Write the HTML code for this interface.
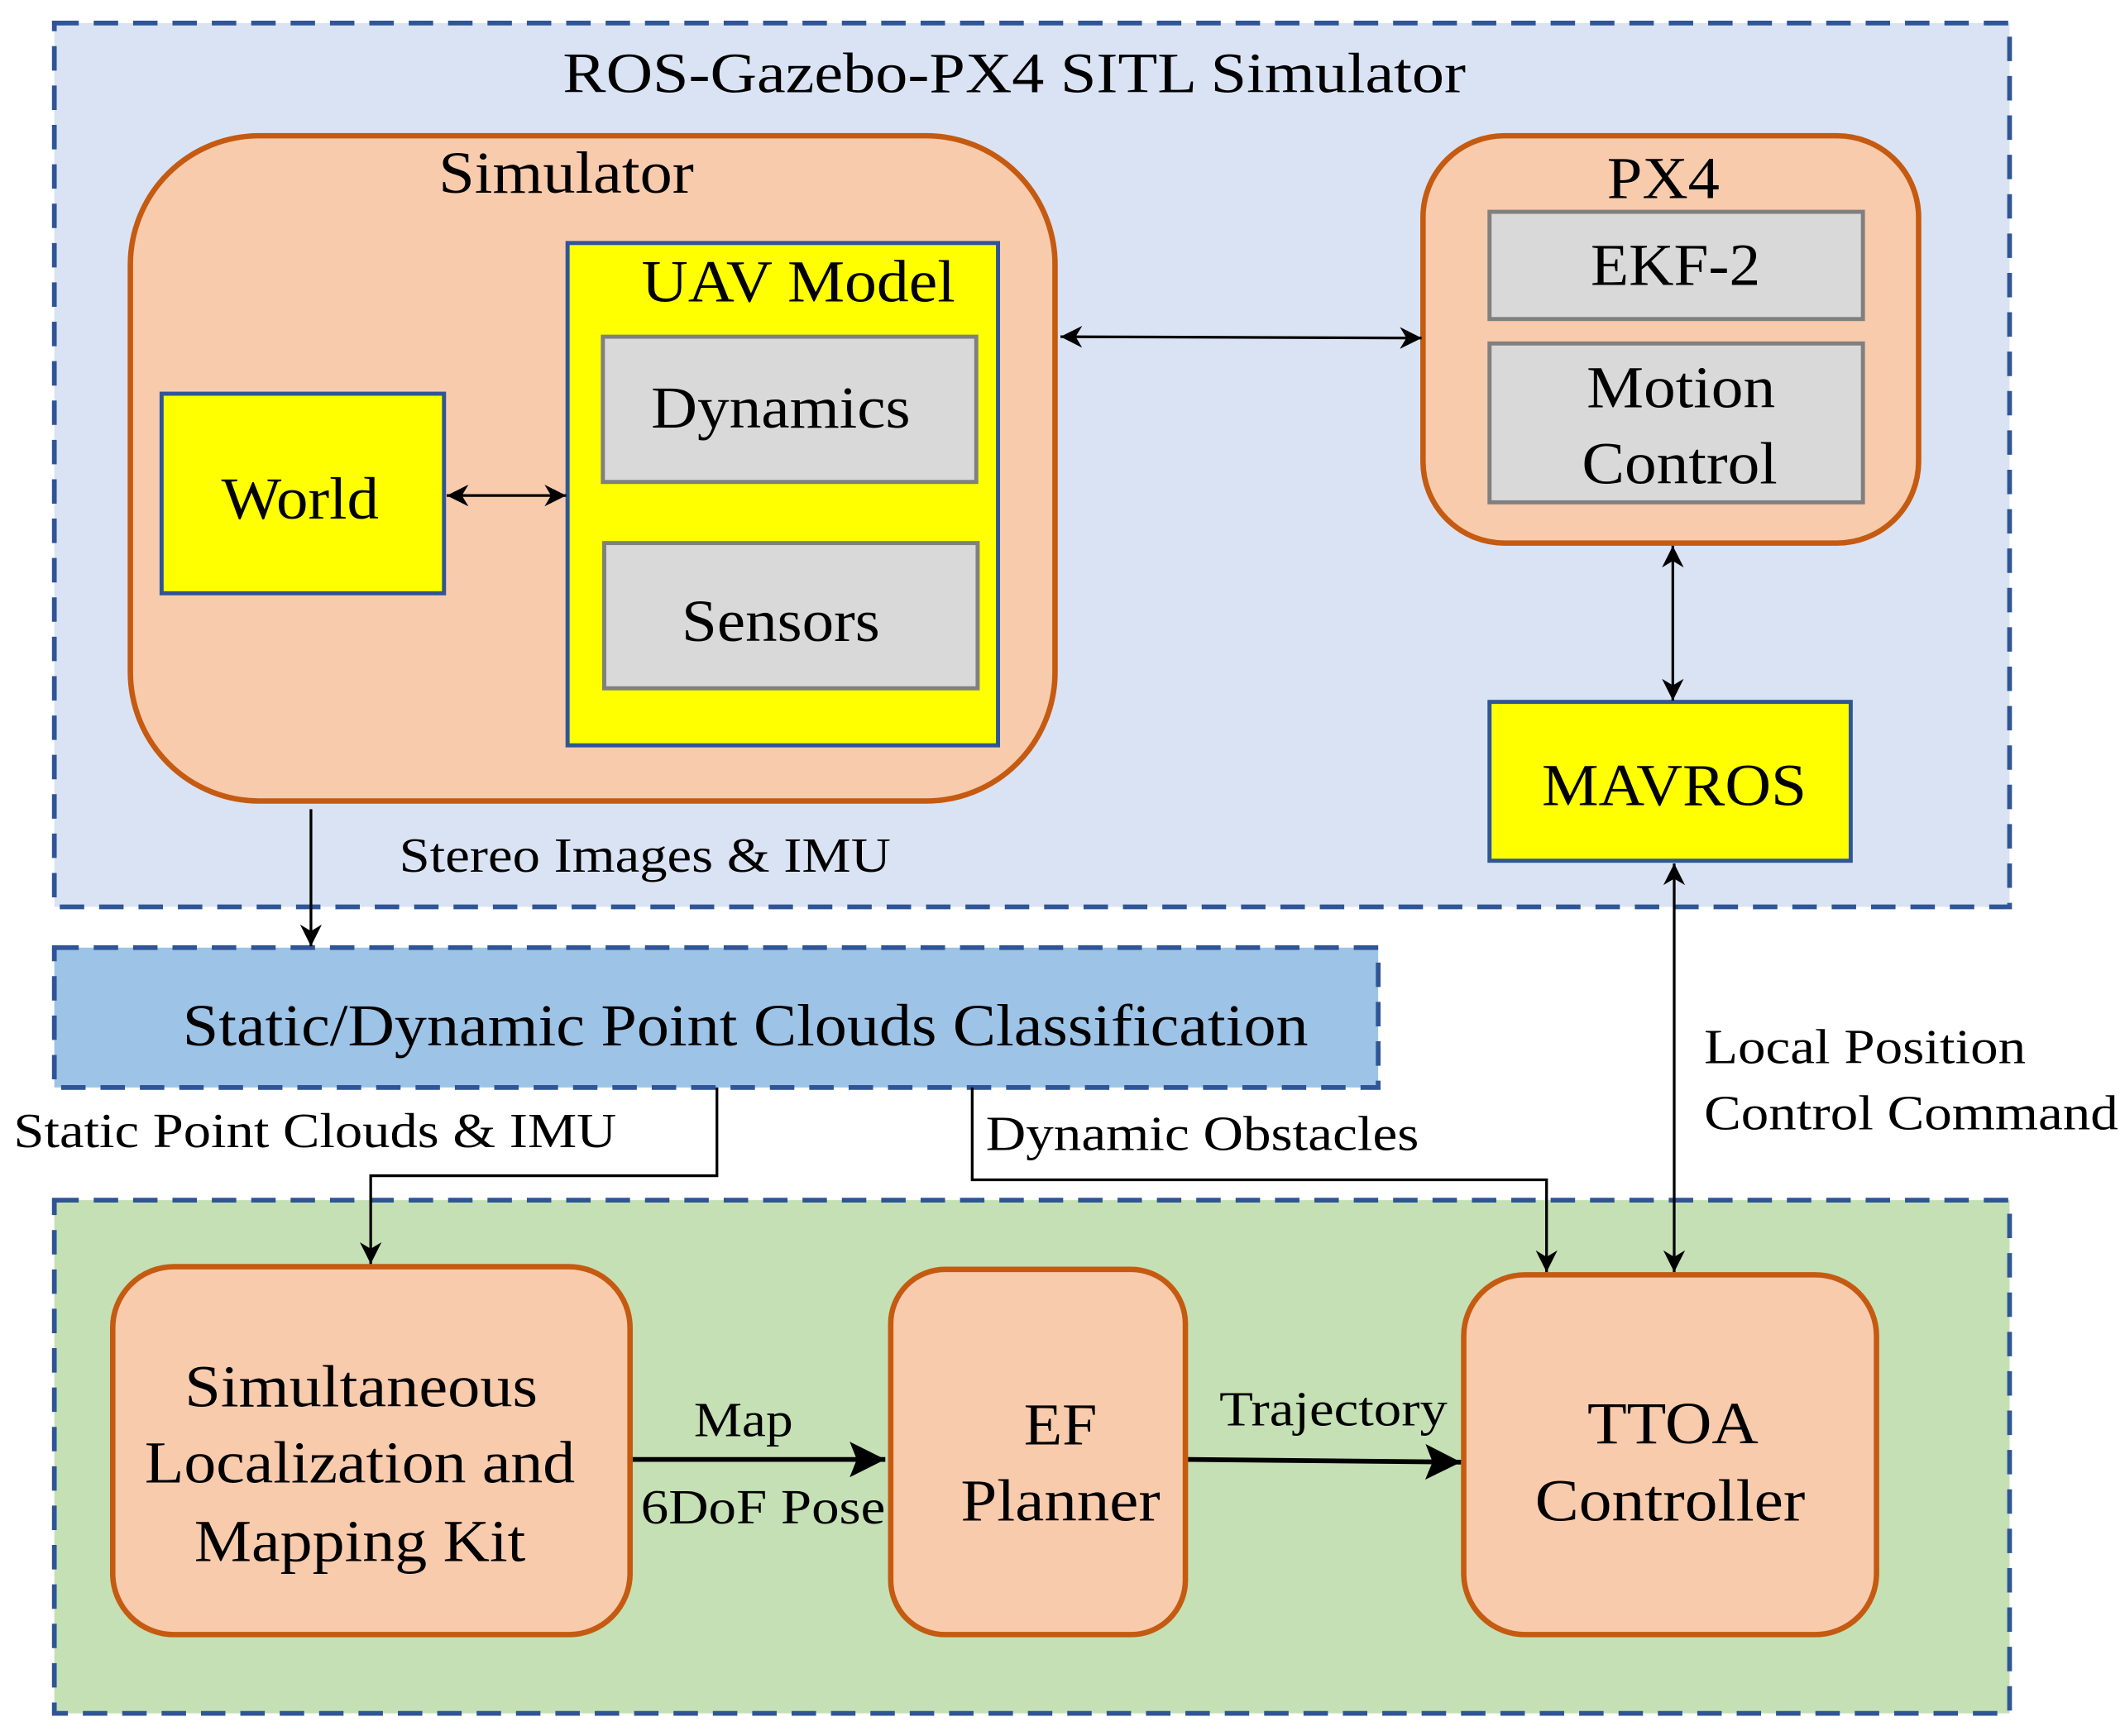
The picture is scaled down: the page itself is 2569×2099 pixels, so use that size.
<!DOCTYPE html>
<html><head><meta charset="utf-8"><style>html,body{margin:0;padding:0;background:#fff}svg{display:block}text{font-family:"Liberation Serif","Times New Roman",Times,serif;fill:#000}</style></head>
<body>
<svg width="2569" height="2099" viewBox="0 0 1565 1278.7" xmlns="http://www.w3.org/2000/svg">
<defs>
<marker id="a" viewBox="0 0 10 10" refX="10" refY="5" markerWidth="16" markerHeight="16" markerUnits="userSpaceOnUse" orient="auto-start-reverse"><path d="M0,0 L10,5 L0,10 L3,5 z" fill="#000"/></marker>
<marker id="b" viewBox="0 0 10 10" refX="10" refY="5" markerWidth="7.5" markerHeight="7.5" orient="auto-start-reverse"><path d="M0,0 L10,5 L0,10 L2,5 z" fill="#000"/></marker>
</defs>
<g stroke="#2f5597" stroke-width="3.5" stroke-dasharray="18,11">
<rect x="40" y="17" width="1440" height="651" fill="#dae3f3"/>
<rect x="40" y="698" width="975" height="103" fill="#9dc3e6"/>
<rect x="40" y="884" width="1440" height="378" fill="#c5e0b4"/>
</g>
<text x="747" y="68" font-size="42" text-anchor="middle" textLength="665" lengthAdjust="spacingAndGlyphs">ROS-Gazebo-PX4 SITL Simulator</text>
<g fill="#f8cbad" stroke="#c55a11" stroke-width="4">
<rect x="96" y="100" width="681" height="490" rx="95"/>
<rect x="1048" y="100" width="365" height="300" rx="60"/>
<rect x="83" y="933" width="381" height="271" rx="45"/>
<rect x="656" y="935" width="217" height="269" rx="40"/>
<rect x="1078" y="939" width="304" height="265" rx="45"/>
</g>
<g stroke="#2f5597" stroke-width="3" fill="#ffff00">
<rect x="418" y="179" width="317" height="370"/>
<rect x="119" y="290" width="208" height="147"/>
<rect x="1097" y="517" width="266" height="117"/>
</g>
<g stroke="#808080" stroke-width="3" fill="#d9d9d9">
<rect x="444" y="248" width="275" height="107"/>
<rect x="445" y="400" width="275" height="107"/>
<rect x="1097" y="156" width="275" height="79"/>
<rect x="1097" y="253" width="275" height="117"/>
</g>
<g font-size="44" text-anchor="middle">
<text x="417" y="142" textLength="188" lengthAdjust="spacingAndGlyphs">Simulator</text>
<text x="588" y="222" textLength="231" lengthAdjust="spacingAndGlyphs">UAV Model</text>
<text x="575" y="315" textLength="191" lengthAdjust="spacingAndGlyphs">Dynamics</text>
<text x="575" y="472" textLength="146" lengthAdjust="spacingAndGlyphs">Sensors</text>
<text x="221" y="382" textLength="116" lengthAdjust="spacingAndGlyphs">World</text>
<text x="1225" y="146" textLength="83" lengthAdjust="spacingAndGlyphs">PX4</text>
<text x="1234" y="210" textLength="125" lengthAdjust="spacingAndGlyphs">EKF-2</text>
<text x="1238" y="300" textLength="139" lengthAdjust="spacingAndGlyphs">Motion</text>
<text x="1237" y="356" textLength="144" lengthAdjust="spacingAndGlyphs">Control</text>
<text x="1233" y="593" textLength="195" lengthAdjust="spacingAndGlyphs">MAVROS</text>
<text x="549" y="770" textLength="829" lengthAdjust="spacingAndGlyphs">Static/Dynamic Point Clouds Classification</text>
<text x="266" y="1036" textLength="260" lengthAdjust="spacingAndGlyphs">Simultaneous</text>
<text x="265" y="1092" textLength="317" lengthAdjust="spacingAndGlyphs">Localization and</text>
<text x="265" y="1150" textLength="244" lengthAdjust="spacingAndGlyphs">Mapping Kit</text>
<text x="781" y="1064" textLength="54" lengthAdjust="spacingAndGlyphs">EF</text>
<text x="781" y="1120" textLength="147" lengthAdjust="spacingAndGlyphs">Planner</text>
<text x="1232" y="1063" textLength="126" lengthAdjust="spacingAndGlyphs">TTOA</text>
<text x="1230" y="1120" textLength="199" lengthAdjust="spacingAndGlyphs">Controller</text>
</g>
<g font-size="36">
<text x="294" y="642" textLength="362" lengthAdjust="spacingAndGlyphs">Stereo Images &amp; IMU</text>
<text x="10" y="845" textLength="444" lengthAdjust="spacingAndGlyphs">Static Point Clouds &amp; IMU</text>
<text x="726" y="847" textLength="319" lengthAdjust="spacingAndGlyphs">Dynamic Obstacles</text>
<text x="1255" y="783" textLength="237" lengthAdjust="spacingAndGlyphs">Local Position</text>
<text x="1255" y="832" textLength="305" lengthAdjust="spacingAndGlyphs">Control Command</text>
<text x="511" y="1058" textLength="73" lengthAdjust="spacingAndGlyphs">Map</text>
<text x="472" y="1122" textLength="180" lengthAdjust="spacingAndGlyphs">6DoF Pose</text>
<text x="898" y="1050" textLength="168" lengthAdjust="spacingAndGlyphs">Trajectory</text>
</g>
<g stroke="#000" stroke-width="2" fill="none">
<line x1="329" y1="365" x2="417" y2="365" marker-start="url(#a)" marker-end="url(#a)"/>
<line x1="781" y1="248" x2="1047" y2="249" marker-start="url(#a)" marker-end="url(#a)"/>
<line x1="1232" y1="402" x2="1232" y2="516" marker-start="url(#a)" marker-end="url(#a)"/>
<line x1="1233" y1="636" x2="1233" y2="937" marker-start="url(#a)" marker-end="url(#a)"/>
<line x1="229" y1="596" x2="229" y2="697" marker-end="url(#a)"/>
<polyline points="528,801 528,866 273,866 273,931" marker-end="url(#a)"/>
<polyline points="716,801 716,869 1139,869 1139,937" marker-end="url(#a)"/>
</g>
<g stroke="#000" stroke-width="3.5" fill="none">
<line x1="466" y1="1075" x2="652" y2="1075" marker-end="url(#b)"/>
<line x1="875" y1="1075" x2="1076" y2="1077" marker-end="url(#b)"/>
</g>
</svg>
</body></html>
